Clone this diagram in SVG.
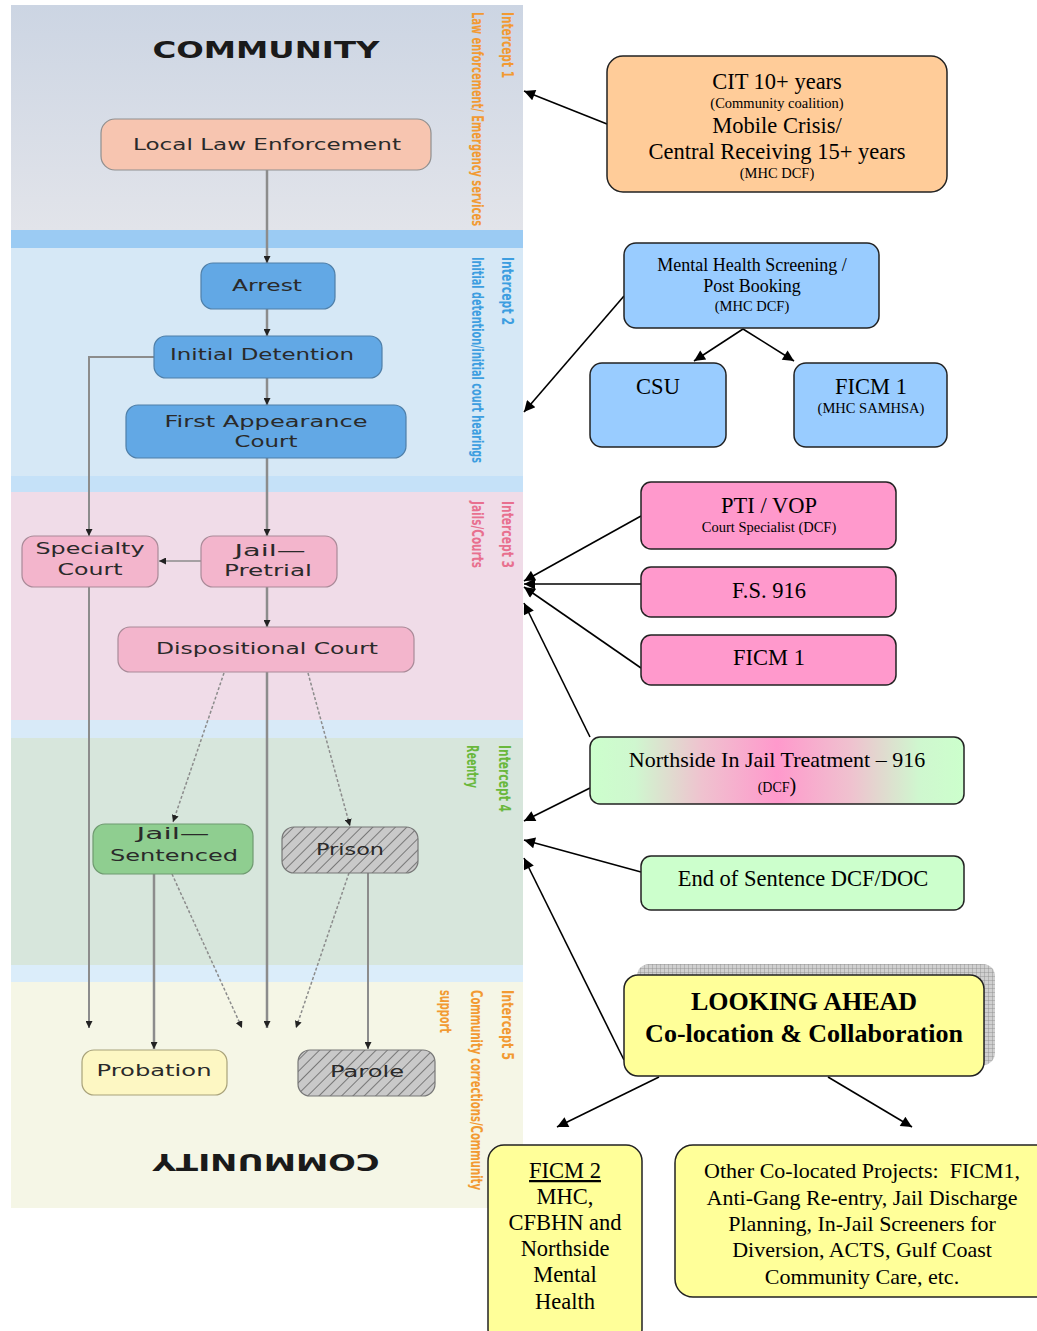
<svg xmlns="http://www.w3.org/2000/svg" width="1037" height="1331" viewBox="0 0 1037 1331">
<style>
.band{stroke:none}
.nl{font-family:"DejaVu Sans","Liberation Sans",sans-serif;font-size:15px;fill:#2a2a2a;text-anchor:middle}
.il{font-family:"DejaVu Sans Condensed","DejaVu Sans","Liberation Sans",sans-serif;font-size:15px;font-weight:bold}
.rt{font-family:"Liberation Serif","Times New Roman",serif;fill:#000;text-anchor:middle}
.big{font-size:22.5px}
.med{font-size:18px}
.flow{fill:none;stroke:#8c8c8c;stroke-width:2.5}
.dash{fill:none;stroke:#8c8c8c;stroke-width:1.5;stroke-dasharray:3 2}
.rarr{fill:none;stroke:#000;stroke-width:1.6}
.rbox{stroke:#222;stroke-width:1.5}
</style>
<defs>
<linearGradient id="g1" x1="0" y1="0" x2="0" y2="1">
<stop offset="0" stop-color="#ccd5e3"/><stop offset="1" stop-color="#e2e4ea"/>
</linearGradient>
<linearGradient id="gn" x1="0" y1="0" x2="1" y2="0">
<stop offset="0" stop-color="#ccffcc"/><stop offset="0.12" stop-color="#cff7cf"/><stop offset="0.3" stop-color="#efc2cf"/><stop offset="0.5" stop-color="#ff99cc"/><stop offset="0.7" stop-color="#efc2cf"/><stop offset="0.88" stop-color="#cff7cf"/><stop offset="1" stop-color="#ccffcc"/>
</linearGradient>
<pattern id="hatch" patternUnits="userSpaceOnUse" width="8" height="8" patternTransform="rotate(45)">
<rect width="8" height="8" fill="#c9c9c9"/><line x1="0" y1="0" x2="0" y2="8" stroke="#555" stroke-width="1.4"/>
</pattern>
<pattern id="grid" patternUnits="userSpaceOnUse" width="4" height="4">
<rect width="4" height="4" fill="#d0d0d0"/><path d="M0,0 H4 M0,0 V4" stroke="#8a8a8a" stroke-width="0.8"/>
</pattern>
<marker id="sa" viewBox="0 0 10 10" refX="10" refY="5" markerWidth="7" markerHeight="7" markerUnits="userSpaceOnUse" orient="auto"><path d="M0,0 L10,5 L0,10 z" fill="#222"/></marker>
<marker id="ba" viewBox="0 0 10 10" refX="10" refY="5" markerWidth="14" markerHeight="11" markerUnits="userSpaceOnUse" orient="auto"><path d="M0,0 L10,5 L0,10 z" fill="#000"/></marker>
</defs>
<rect width="1037" height="1331" fill="#fff"/>
<g id="bands">
<rect class="band" x="11" y="5" width="512" height="225" fill="url(#g1)"/>
<rect class="band" x="11" y="230" width="512" height="18" fill="#9bcbf3"/>
<rect class="band" x="11" y="248" width="512" height="228" fill="#d6e8f6"/>
<rect class="band" x="11" y="476" width="512" height="16" fill="#c5e1f8"/>
<rect class="band" x="11" y="492" width="512" height="228" fill="#f0dce8"/>
<rect class="band" x="11" y="720" width="512" height="18" fill="#d8eaf8"/>
<rect class="band" x="11" y="738" width="512" height="227" fill="#d7e6dc"/>
<rect class="band" x="11" y="965" width="512" height="17" fill="#dbedfa"/>
<rect class="band" x="11" y="982" width="512" height="226" fill="#f5f6e6"/>
</g>
<g id="titles">
<text x="266" y="58" text-anchor="middle" font-family="DejaVu Sans,Liberation Sans,sans-serif" font-weight="bold" font-size="23" fill="#1a1a1a" textLength="227" lengthAdjust="spacingAndGlyphs">COMMUNITY</text>
<text x="266" y="1170" text-anchor="middle" font-family="DejaVu Sans,Liberation Sans,sans-serif" font-weight="bold" font-size="23" fill="#1a1a1a" textLength="227" lengthAdjust="spacingAndGlyphs" transform="rotate(180 266 1162)">COMMUNITY</text>
</g>
<g id="intercept-labels">
<text class="il" fill="#f29a32" transform="translate(502,12) rotate(90)" textLength="66" lengthAdjust="spacingAndGlyphs">Intercept 1</text>
<text class="il" fill="#f29a32" transform="translate(472,12) rotate(90)" textLength="214" lengthAdjust="spacingAndGlyphs">Law enforcement/ Emergency services</text>
<text class="il" fill="#3d9ee0" transform="translate(502,257) rotate(90)" textLength="68" lengthAdjust="spacingAndGlyphs">Intercept 2</text>
<text class="il" fill="#3d9ee0" transform="translate(472,257) rotate(90)" textLength="206" lengthAdjust="spacingAndGlyphs">Initial detention/initial court hearings</text>
<text class="il" fill="#e8708f" transform="translate(502,501) rotate(90)" textLength="67" lengthAdjust="spacingAndGlyphs">Intercept 3</text>
<text class="il" fill="#e8708f" transform="translate(472,501) rotate(90)" textLength="67" lengthAdjust="spacingAndGlyphs">Jails/Courts</text>
<text class="il" fill="#6ab83c" transform="translate(499,745) rotate(90)" textLength="67" lengthAdjust="spacingAndGlyphs">Intercept 4</text>
<text class="il" fill="#6ab83c" transform="translate(467,745) rotate(90)" textLength="43" lengthAdjust="spacingAndGlyphs">Reentry</text>
<text class="il" fill="#f29a32" transform="translate(502,990) rotate(90)" textLength="70" lengthAdjust="spacingAndGlyphs">Intercept 5</text>
<text class="il" fill="#f29a32" transform="translate(471,990) rotate(90)" textLength="200" lengthAdjust="spacingAndGlyphs">Community corrections/Community</text>
<text class="il" fill="#f29a32" transform="translate(440,990) rotate(90)" textLength="43" lengthAdjust="spacingAndGlyphs">support</text>
</g>
<g id="connectors">
<path class="flow" d="M267,170 V263" marker-end="url(#sa)"/>
<path class="flow" d="M267,309 V336" marker-end="url(#sa)"/>
<path class="flow" d="M267,378 V405" marker-end="url(#sa)"/>
<path class="flow" d="M267,458 V536" marker-end="url(#sa)"/>
<path class="flow" d="M267,587 V627" marker-end="url(#sa)"/>
<path class="flow" d="M267,672 V1028" marker-end="url(#sa)"/>
<path class="flow" d="M154,357 H89 V536" marker-end="url(#sa)" style="stroke-width:2"/>
<path class="flow" d="M89,587 V1028" marker-end="url(#sa)" style="stroke-width:2"/>
<path class="flow" d="M201,561 H159" marker-end="url(#sa)" style="stroke-width:1.5"/>
<path class="dash" d="M224,673 L173,822" marker-end="url(#sa)"/>
<path class="dash" d="M308,673 L350,826" marker-end="url(#sa)"/>
<path class="dash" d="M172,874 L242,1028" marker-end="url(#sa)"/>
<path class="dash" d="M349,873 L296,1028" marker-end="url(#sa)"/>
<path class="flow" d="M154,874 V1049" marker-end="url(#sa)"/>
<path class="flow" d="M368,873 V1049" marker-end="url(#sa)" style="stroke-width:2"/>
<path class="rarr" d="M607,124 L524,91" marker-end="url(#ba)"/>
<path class="rarr" d="M624,296 L524,412" marker-end="url(#ba)"/>
<path class="rarr" d="M743,329 L694,361" marker-end="url(#ba)"/>
<path class="rarr" d="M743,329 L794,361" marker-end="url(#ba)"/>
<path class="rarr" d="M641,516 L524,581" marker-end="url(#ba)"/>
<path class="rarr" d="M641,584 L524,584" marker-end="url(#ba)"/>
<path class="rarr" d="M641,668 L524,587" marker-end="url(#ba)"/>
<path class="rarr" d="M590,737 L524,603" marker-end="url(#ba)"/>
<path class="rarr" d="M590,788 L524,821" marker-end="url(#ba)"/>
<path class="rarr" d="M641,872 L524,840" marker-end="url(#ba)"/>
<path class="rarr" d="M624,1060 L524,858" marker-end="url(#ba)"/>
<path class="rarr" d="M659,1077 L557,1127" marker-end="url(#ba)"/>
<path class="rarr" d="M828,1077 L912,1127" marker-end="url(#ba)"/>
</g>
<g id="n-local-law"><rect x="101" y="119" width="330" height="51" rx="14" fill="#f7c5b0" stroke="#8f8f8f" stroke-width="1.2"/><text class="nl" x="267" y="150" textLength="268" lengthAdjust="spacingAndGlyphs">Local Law Enforcement</text></g>
<g id="n-arrest"><rect x="201" y="263" width="134" height="46" rx="12" fill="#62a8e5" stroke="#4f7fa8" stroke-width="1.2"/><text class="nl" x="267" y="291" textLength="70" lengthAdjust="spacingAndGlyphs">Arrest</text></g>
<g id="n-initial"><rect x="154" y="336" width="228" height="42" rx="12" fill="#62a8e5" stroke="#4f7fa8" stroke-width="1.2"/><text class="nl" x="262" y="360" textLength="184" lengthAdjust="spacingAndGlyphs">Initial Detention</text></g>
<g id="n-first"><rect x="126" y="405" width="280" height="53" rx="12" fill="#62a8e5" stroke="#4f7fa8" stroke-width="1.2"/><text class="nl" x="266" y="427" textLength="203" lengthAdjust="spacingAndGlyphs">First Appearance</text><text class="nl" x="266" y="447" textLength="63" lengthAdjust="spacingAndGlyphs">Court</text></g>
<g id="n-specialty"><rect x="22" y="536" width="136" height="51" rx="12" fill="#f3b5cc" stroke="#a98a98" stroke-width="1.2"/><text class="nl" x="90" y="554" textLength="109" lengthAdjust="spacingAndGlyphs">Specialty</text><text class="nl" x="90" y="575" textLength="65" lengthAdjust="spacingAndGlyphs">Court</text></g>
<g id="n-pretrial"><rect x="201" y="536" width="136" height="51" rx="12" fill="#f3b5cc" stroke="#a98a98" stroke-width="1.2"/><text class="nl" x="270" y="556" textLength="71" lengthAdjust="spacingAndGlyphs">Jail—</text><text class="nl" x="268" y="576" textLength="88" lengthAdjust="spacingAndGlyphs">Pretrial</text></g>
<g id="n-dispositional"><rect x="118" y="627" width="296" height="45" rx="12" fill="#f3b5cc" stroke="#a98a98" stroke-width="1.2"/><text class="nl" x="267" y="654" textLength="222" lengthAdjust="spacingAndGlyphs">Dispositional Court</text></g>
<g id="n-sentenced"><rect x="93" y="824" width="160" height="50" rx="12" fill="#8fce90" stroke="#6f9a70" stroke-width="1.2"/><text class="nl" x="173" y="839" textLength="73" lengthAdjust="spacingAndGlyphs">Jail—</text><text class="nl" x="174" y="861" textLength="128" lengthAdjust="spacingAndGlyphs">Sentenced</text></g>
<g id="n-prison"><rect x="282" y="827" width="136" height="46" rx="12" fill="url(#hatch)" stroke="#777" stroke-width="1.2"/><text class="nl" x="350" y="855" textLength="68" lengthAdjust="spacingAndGlyphs" fill="#444">Prison</text></g>
<g id="n-probation"><rect x="82" y="1050" width="145" height="45" rx="12" fill="#fdf7c3" stroke="#a8a27a" stroke-width="1.2"/><text class="nl" x="154" y="1076" textLength="115" lengthAdjust="spacingAndGlyphs">Probation</text></g>
<g id="n-parole"><rect x="298" y="1050" width="137" height="46" rx="12" fill="url(#hatch)" stroke="#777" stroke-width="1.2"/><text class="nl" x="367" y="1077" textLength="74" lengthAdjust="spacingAndGlyphs" fill="#444">Parole</text></g>
<g id="n-cit"><rect class="rbox" x="607" y="56" width="340" height="136" rx="16" fill="#ffcc99"/>
<text class="rt big" x="777" y="89">CIT 10+ years</text>
<text class="rt" x="777" y="108" font-size="14.5">(Community coalition)</text>
<text class="rt big" x="777" y="133">Mobile Crisis/</text>
<text class="rt big" x="777" y="159">Central Receiving 15+ years</text>
<text class="rt" x="777" y="178" font-size="14.5">(MHC DCF)</text></g>
<g id="n-mhs"><rect class="rbox" x="624" y="243" width="255" height="85" rx="12" fill="#99ccff"/>
<text class="rt med" x="752" y="271">Mental Health Screening /</text>
<text class="rt med" x="752" y="292">Post Booking</text>
<text class="rt" x="752" y="311" font-size="14.5">(MHC DCF)</text></g>
<g id="n-csu"><rect class="rbox" x="590" y="363" width="136" height="84" rx="12" fill="#99ccff"/><text class="rt big" x="658" y="394">CSU</text></g>
<g id="n-ficm1a"><rect class="rbox" x="794" y="363" width="153" height="84" rx="12" fill="#99ccff"/><text class="rt big" x="871" y="394">FICM 1</text><text class="rt" x="871" y="413" font-size="14.5">(MHC SAMHSA)</text></g>
<g id="n-pti"><rect class="rbox" x="641" y="482" width="255" height="67" rx="10" fill="#ff99cc"/><text class="rt big" x="769" y="513">PTI / VOP</text><text class="rt" x="769" y="532" font-size="14.5">Court Specialist (DCF)</text></g>
<g id="n-fs916"><rect class="rbox" x="641" y="567" width="255" height="50" rx="10" fill="#ff99cc"/><text class="rt big" x="769" y="598">F.S. 916</text></g>
<g id="n-ficm1b"><rect class="rbox" x="641" y="635" width="255" height="50" rx="10" fill="#ff99cc"/><text class="rt big" x="769" y="665">FICM 1</text></g>
<g id="n-northside"><rect class="rbox" x="590" y="737" width="374" height="67" rx="10" fill="url(#gn)"/><text class="rt" x="777" y="767" font-size="22">Northside In Jail Treatment – 916</text><text class="rt" x="777" y="792" font-size="14">(DCF<tspan font-size="20">)</tspan></text></g>
<g id="n-eos"><rect class="rbox" x="641" y="856" width="323" height="54" rx="10" fill="#ccffcc"/><text class="rt big" x="803" y="886">End of Sentence DCF/DOC</text></g>
<g id="n-looking"><rect x="637" y="964" width="358" height="101" rx="12" fill="url(#grid)"/><rect class="rbox" x="624" y="975" width="360" height="101" rx="14" fill="#ffff99"/>
<text class="rt" x="804" y="1010" font-size="26" font-weight="bold">LOOKING AHEAD</text>
<text class="rt" x="804" y="1042" font-size="26" font-weight="bold">Co-location &amp; Collaboration</text></g>
<g id="n-ficm2"><rect class="rbox" x="488" y="1145" width="154" height="200" rx="16" fill="#ffff99"/>
<text class="rt big" x="565" y="1178" text-decoration="underline">FICM 2</text>
<text class="rt big" x="565" y="1204">MHC,</text>
<text class="rt big" x="565" y="1230">CFBHN and</text>
<text class="rt big" x="565" y="1256">Northside</text>
<text class="rt big" x="565" y="1282">Mental</text>
<text class="rt big" x="565" y="1309">Health</text></g>
<g id="n-other"><rect class="rbox" x="675" y="1145" width="380" height="152" rx="18" fill="#ffff99"/>
<text class="rt" x="862" y="1178" font-size="22" xml:space="preserve">Other Co-located Projects:  FICM1,</text>
<text class="rt" x="862" y="1205" font-size="22">Anti-Gang Re-entry, Jail Discharge</text>
<text class="rt" x="862" y="1231" font-size="22">Planning, In-Jail Screeners for</text>
<text class="rt" x="862" y="1257" font-size="22">Diversion, ACTS, Gulf Coast</text>
<text class="rt" x="862" y="1284" font-size="22">Community Care, etc.</text></g>
</svg>
